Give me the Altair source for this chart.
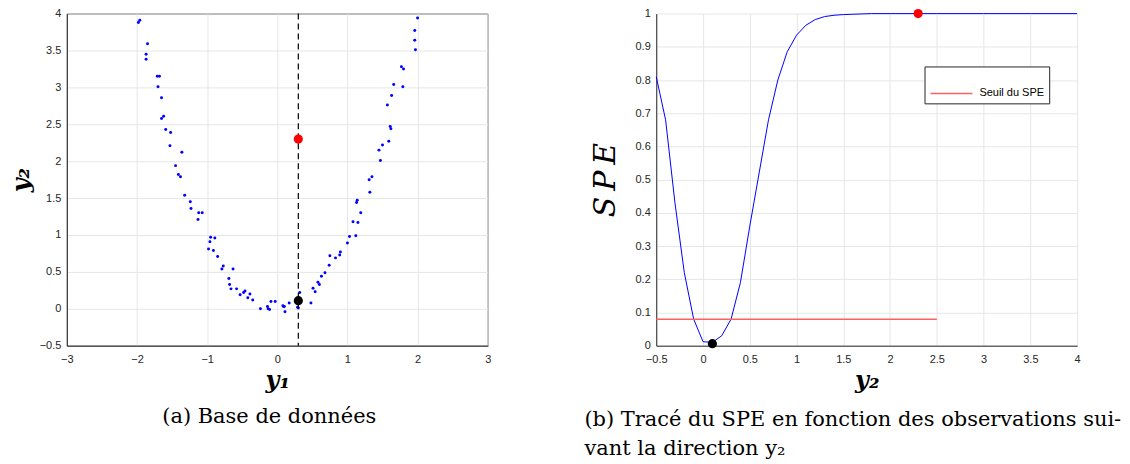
import altair as alt
import pandas as pd

# ---------------- data ----------------
# (a) data base : observations y1 / y2
y1_vals = [-1.96, -1.98, -1.85, -1.87, -1.87, -1.71, -1.68, -1.70, -1.65, -1.62, -1.65, -1.59,
           -1.52, -1.53, -1.36, -1.45, -1.41, -1.38,
           -1.32, -1.24, -1.23, -1.12, -1.07, -1.13, -0.95, -0.89, -0.96, -0.98, -0.91, -0.85,
           -0.77, -0.79, -0.63, -0.69, -0.68, -0.66, -0.58, -0.53, -0.48, -0.46, -0.39, -0.42,
           -0.35, -0.24, -0.14, -0.13, -0.11, -0.09, -0.03, 0.08, 0.10, 0.09, 0.11, 0.17,
           0.32, 0.29, 0.30, 0.48, 0.51, 0.54, 0.58, 0.60, 0.63, 0.68, 0.74, 0.75,
           0.83, 0.89, 0.90, 1.00, 1.03, 1.12, 1.08, 1.15, 1.19, 1.13, 1.14, 1.32, 1.31, 1.35,
           2.00, 1.96, 1.96, 1.97, 1.77, 1.80, 1.66, 1.79, 1.63, 1.57, 1.61, 1.62, 1.59, 1.50,
           1.45, 1.47]
y2_vals = [3.91, 3.88, 3.59, 3.45, 3.38, 3.15, 3.15, 3.01, 2.86, 2.61, 2.58, 2.43,
           2.39, 2.21, 2.12, 1.94, 1.82, 1.79,
           1.54, 1.45, 1.36, 1.30, 1.30, 1.21, 0.97, 0.96, 0.91, 0.81, 0.79, 0.71,
           0.58, 0.54, 0.54, 0.41, 0.33, 0.27, 0.27, 0.19, 0.22, 0.24, 0.20, 0.15,
           0.12, 0.00, 0.03, 0.00, -0.01, 0.10, 0.10, 0.04, 0.03, 0.03, -0.04, 0.08,
           0.22, 0.02, 0.01, 0.08, 0.28, 0.23, 0.36, 0.33, 0.44, 0.49, 0.59, 0.72,
           0.69, 0.73, 0.77, 0.89, 0.98, 0.99, 1.18, 1.17, 1.30, 1.44, 1.47, 1.58, 1.75, 1.79,
           3.94, 3.77, 3.64, 3.51, 3.28, 3.25, 3.04, 3.01, 2.89, 2.76, 2.47, 2.44, 2.27, 2.22,
           2.15, 2.01]

direction_y1 = 0.3
marked_y1 = [0.3, 0.3]
marked_y2 = [2.30, 0.11]
marked_color = ["red", "black"]

# (b) SPE along direction y2
spe_x = [-0.5, -0.4, -0.3, -0.2, -0.1, 0.0, 0.1, 0.2, 0.3, 0.4, 0.5, 0.6, 0.7, 0.8, 0.9,
         1.0, 1.1, 1.2, 1.3, 1.4, 1.5, 1.6, 1.7, 1.8, 2.0, 2.5, 3.0, 3.5, 4.0]
spe_y = [0.81, 0.68, 0.43, 0.22, 0.08, 0.012, 0.01, 0.03, 0.08, 0.19, 0.36, 0.52, 0.68, 0.80,
         0.885, 0.935, 0.965, 0.982, 0.991, 0.995, 0.997, 0.998, 0.999, 1.0, 1.0, 1.0, 1.0,
         1.0, 1.0]
seuil_value = 0.08
seuil_x_start = -0.5
seuil_x_end = 2.5
seuil_label = "Seuil du SPE"
spe_marked_x = [2.3, 0.1]
spe_marked_y = [1.0, 0.006]
spe_marked_color = ["red", "black"]

left_x_ticks = [-3, -2, -1, 0, 1, 2, 3]
left_y_ticks = [-0.5, 0, 0.5, 1, 1.5, 2, 2.5, 3, 3.5, 4]
right_x_ticks = [-0.5, 0, 0.5, 1, 1.5, 2, 2.5, 3, 3.5, 4]
right_y_ticks = [0, 0.1, 0.2, 0.3, 0.4, 0.5, 0.6, 0.7, 0.8, 0.9, 1]

# ---------------- styling ----------------
SANS = "Liberation Sans"
SERIF = "DejaVu Serif"
AX = "#262626"
GRID = "#e6e6e6"
W, H = 422, 333


def mk_axis(title, values, label_pad, title_pad, bold=True, size=24):
    return alt.Axis(
        title=title, values=values, tickCount=len(values) + 5, format="~g", ticks=False,
        labelFont=SANS, labelFontSize=11, labelColor=AX, labelPadding=label_pad,
        labelFlush=False, labelOverlap=False,
        domainColor=AX, domainWidth=1,
        grid=True, gridColor=GRID, gridWidth=1,
        titleFont=SERIF, titleFontSize=size, titleColor="black",
        titleFontWeight="bold" if bold else "normal", titleFontStyle="italic",
        titlePadding=title_pad,
    )


# ---------------- left panel ----------------
scat_df = pd.DataFrame({"y1": y1_vals, "y2": y2_vals})
mark_df = pd.DataFrame({"y1": marked_y1, "y2": marked_y2, "c": marked_color})
dir_df = pd.DataFrame({"y1": [direction_y1]})

xs_l = alt.Scale(domain=[-3, 3], nice=False, zero=False)
ys_l = alt.Scale(domain=[-0.5, 4], nice=False, zero=False)

scatter = alt.Chart(scat_df).mark_circle(size=9, color="#0000ff", opacity=1).encode(
    x=alt.X("y1:Q", scale=xs_l, axis=mk_axis("y₁", left_x_ticks, 8, 4)),
    y=alt.Y("y2:Q", scale=ys_l, axis=mk_axis("y₂", left_y_ticks, 6, 6)),
)
dir_line = alt.Chart(dir_df).mark_rule(color="black", strokeWidth=1.2, strokeDash=[6, 4]).encode(
    x=alt.X("y1:Q", scale=xs_l)
)
big_pts = alt.Chart(mark_df).mark_circle(size=85, opacity=1).encode(
    x=alt.X("y1:Q", scale=xs_l),
    y=alt.Y("y2:Q", scale=ys_l),
    color=alt.Color("c:N", scale=None),
)

left = alt.layer(scatter, dir_line, big_pts).properties(
    width=W, height=H,
    view=alt.ViewBackground(stroke=AX, strokeWidth=1),
    title=alt.TitleParams(
        text="(a) Base de données", orient="bottom", anchor="middle", dx=-8, frame="group",
        font=SERIF, fontSize=21, fontWeight="normal", color="black", offset=14,
    ),
)

# ---------------- right panel ----------------
spe_df = pd.DataFrame({"x": spe_x, "spe": spe_y})
seuil_df = pd.DataFrame({"x0": [seuil_x_start], "x1": [seuil_x_end], "y": [seuil_value],
                         "serie": [seuil_label]})
spe_mark_df = pd.DataFrame({"x": spe_marked_x, "spe": spe_marked_y, "c": spe_marked_color})

xs_r = alt.Scale(domain=[-0.5, 4], nice=False, zero=False)
ys_r = alt.Scale(domain=[0, 1], nice=False, zero=False)

spe_line = alt.Chart(spe_df).mark_line(color="#0000ff", strokeWidth=1).encode(
    x=alt.X("x:Q", scale=xs_r, axis=mk_axis("y₂", right_x_ticks, 8, 4)),
    y=alt.Y("spe:Q", scale=ys_r,
            axis=mk_axis("S\u2009P\u2009E", right_y_ticks, 6, 15, bold=False, size=30)),
)
seuil_rule = alt.Chart(seuil_df).mark_rule(strokeWidth=1.5).encode(
    x=alt.X("x0:Q", scale=xs_r),
    x2="x1:Q",
    y=alt.Y("y:Q", scale=ys_r),
    color=alt.Color(
        "serie:N",
        scale=alt.Scale(domain=[seuil_label], range=["#ff6060"]),
        legend=alt.Legend(
            title=None, orient="none", legendX=269, legendY=53,
            symbolType="stroke", symbolSize=1764, symbolStrokeWidth=1.5,
            labelFont=SANS, labelFontSize=11, labelColor="black", labelOffset=6,
            strokeColor=AX, fillColor="white", padding=5,
        ),
    ),
)
spe_pts = alt.Chart(spe_mark_df).mark_circle(size=85, opacity=1).encode(
    x=alt.X("x:Q", scale=xs_r),
    y=alt.Y("spe:Q", scale=ys_r),
    color=alt.Color("c:N", scale=None),
)

right = alt.layer(spe_line, seuil_rule, spe_pts).properties(
    width=W, height=H,
    view=alt.ViewBackground(stroke="transparent"),
    title=alt.TitleParams(
        text=["(b) Tracé du SPE en fonction des observations sui-", "vant la direction y₂"],
        orient="bottom", anchor="start", align="left", dx=-72, lineHeight=29, frame="group",
        font=SERIF, fontSize=21, fontWeight="normal", color="black", offset=17,
    ),
)

chart = alt.hconcat(left, right, spacing=169, bounds="flush").resolve_scale(
    color="independent"
).properties(
    padding={"left": 0, "top": -2, "right": 0, "bottom": 0}
)

chart.save("out.html", embed_options={"renderer": "svg", "actions": False})
